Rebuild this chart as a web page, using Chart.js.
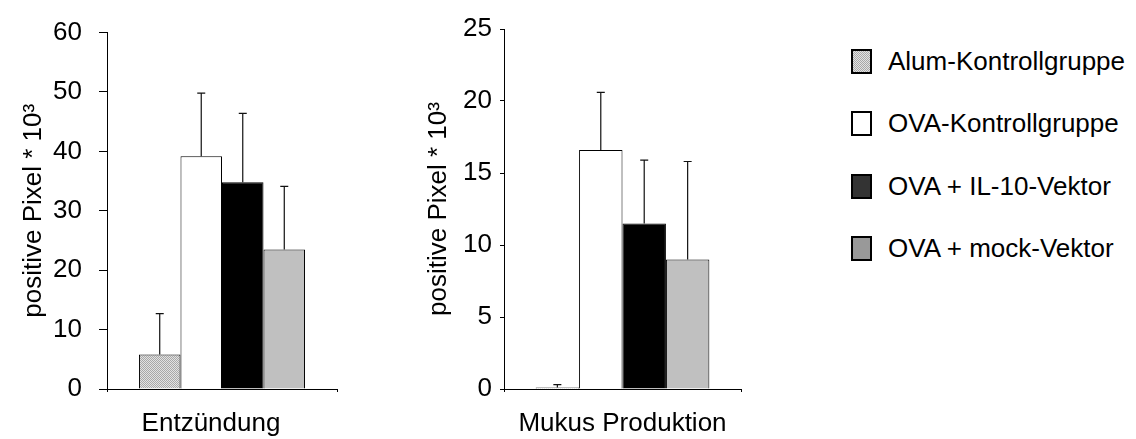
<!DOCTYPE html>
<html>
<head>
<meta charset="utf-8">
<script src="https://cdn.jsdelivr.net/npm/chart.js@4.4.0/dist/chart.umd.min.js"></script>
<style>
  body { margin: 0; background: #fff; }
  #wrap { position: relative; width: 1136px; height: 439px; overflow: hidden; font-family: "Liberation Sans", Arial, sans-serif; }
  #chartLeft { position: absolute; left: 0; top: 0; }
  #chartRight { position: absolute; left: 390px; top: 0; }
  #legend { position: absolute; left: 851px; top: 0; }
  .item { position: absolute; left: 0; height: 30px; display: flex; align-items: center; white-space: nowrap; font-size: 26px; color: #000; }
  .box { width: 21px; height: 25px; box-sizing: border-box; border: 2px solid #000; margin-right: 16px; }
</style>
</head>
<body>
<div id="wrap">
  <canvas id="chartLeft" width="345" height="439"></canvas>
  <canvas id="chartRight" width="360" height="439"></canvas>
  <div id="legend"></div>
</div>
<script>
// groups and measured values (mean and SD, in positive pixels * 10^3)
const groups = ['Alum-Kontrollgruppe', 'OVA-Kontrollgruppe', 'OVA + IL-10-Vektor', 'OVA + mock-Vektor'];
const inflammationMean = [5.8, 39.2, 34.8, 23.5];
const inflammationSD = [6.9, 10.6, 11.6, 10.6];
const mucusMean = [0.1, 16.6, 11.5, 9.0];
const mucusSD = [0.2, 4.0, 4.4, 6.8];
const inflammationTicks = [0, 10, 20, 30, 40, 50, 60];
const mucusTicks = [0, 5, 10, 15, 20, 25];
const yTitle = 'positive Pixel * 10³';

// fine dotted fill for the alum group
function makeDots() {
  const c = document.createElement('canvas');
  c.width = 2; c.height = 2;
  const g = c.getContext('2d');
  g.fillStyle = '#e2e2e2';
  g.fillRect(0, 0, 2, 2);
  g.fillStyle = '#a8a8a8';
  g.fillRect(0, 0, 1, 1);
  g.fillRect(1, 1, 1, 1);
  return c;
}
const dotTile = makeDots();
const dotPattern = document.createElement('canvas').getContext('2d').createPattern(dotTile, 'repeat');

const barColors = [dotPattern, '#ffffff', '#000000', '#c0c0c0'];
const legendColors = ['url(' + dotTile.toDataURL() + ')', '#ffffff', '#333333', '#999999'];

// error bars (upper half only) with a short cap
const errorBars = {
  id: 'errorBars',
  afterDatasetsDraw(chart) {
    const ctx = chart.ctx;
    const y = chart.scales.y;
    ctx.save();
    ctx.strokeStyle = '#111';
    ctx.lineWidth = 1.2;
    chart.data.datasets.forEach((ds, i) => {
      const meta = chart.getDatasetMeta(i);
      meta.data.forEach((bar, j) => {
        const top = y.getPixelForValue(ds.data[j] + ds.sd[j]);
        ctx.beginPath();
        ctx.moveTo(bar.x, bar.y);
        ctx.lineTo(bar.x, top);
        ctx.moveTo(bar.x - 4, top);
        ctx.lineTo(bar.x + 4, top);
        ctx.stroke();
      });
    });
    ctx.restore();
  }
};

function makeChart(id, category, means, sds, ticks, o) {
  const ctx = document.getElementById(id).getContext('2d');
  const font = { family: '"Liberation Sans", Arial, sans-serif', size: 26 };
  return new Chart(ctx, {
    type: 'bar',
    data: {
      labels: [category],
      datasets: groups.map((g, i) => ({
        label: g,
        data: [means[i]],
        sd: [sds[i]],
        backgroundColor: barColors[i],
        borderColor: '#000',
        borderWidth: 1,
        borderSkipped: 'bottom',
        categoryPercentage: o.catPct,
        barPercentage: 1
      }))
    },
    options: {
      responsive: false,
      animation: false,
      layout: { padding: { left: 0, right: o.right, top: o.top, bottom: 0 } },
      plugins: { legend: { display: false }, tooltip: { enabled: false } },
      scales: {
        x: {
          grid: { drawOnChartArea: false, tickLength: 3, color: '#000' },
          border: { color: '#000' },
          ticks: { color: '#000', font: font, padding: 16, labelOffset: o.labelOffset },
          afterFit: (s) => { s.height = 50; }
        },
        y: {
          min: 0,
          max: ticks[ticks.length - 1],
          afterBuildTicks: (s) => { s.ticks = ticks.map(v => ({ value: v })); },
          grid: { drawOnChartArea: false, tickLength: o.tickLen, color: '#000' },
          border: { color: '#000' },
          ticks: { color: '#000', font: font, padding: o.tickPad },
          title: { display: true, text: yTitle, color: '#000', font: font, padding: { top: o.titlePad, bottom: 0 } },
          afterFit: (s) => { s.width = o.axisWidth; }
        }
      }
    },
    plugins: [errorBars]
  });
}

makeChart('chartLeft', 'Entzündung', inflammationMean, inflammationSD, inflammationTicks,
  { catPct: 0.722, right: 8, top: 24, tickLen: 8, tickPad: 17, titlePad: 18, axisWidth: 107, labelOffset: -11 });
makeChart('chartRight', 'Mukus Produktion', mucusMean, mucusSD, mucusTicks,
  { catPct: 0.733, right: 9, top: 29, tickLen: 4, tickPad: 8, titlePad: 33, axisWidth: 114, labelOffset: 0 });

// legend on the right
const legend = document.getElementById('legend');
groups.forEach((g, i) => {
  const row = document.createElement('div');
  row.className = 'item';
  row.style.top = (46.5 + i * 62.3) + 'px';
  const box = document.createElement('div');
  box.className = 'box';
  box.style.background = legendColors[i];
  const txt = document.createElement('span');
  txt.textContent = g;
  row.appendChild(box);
  row.appendChild(txt);
  legend.appendChild(row);
});
</script>
</body>
</html>
